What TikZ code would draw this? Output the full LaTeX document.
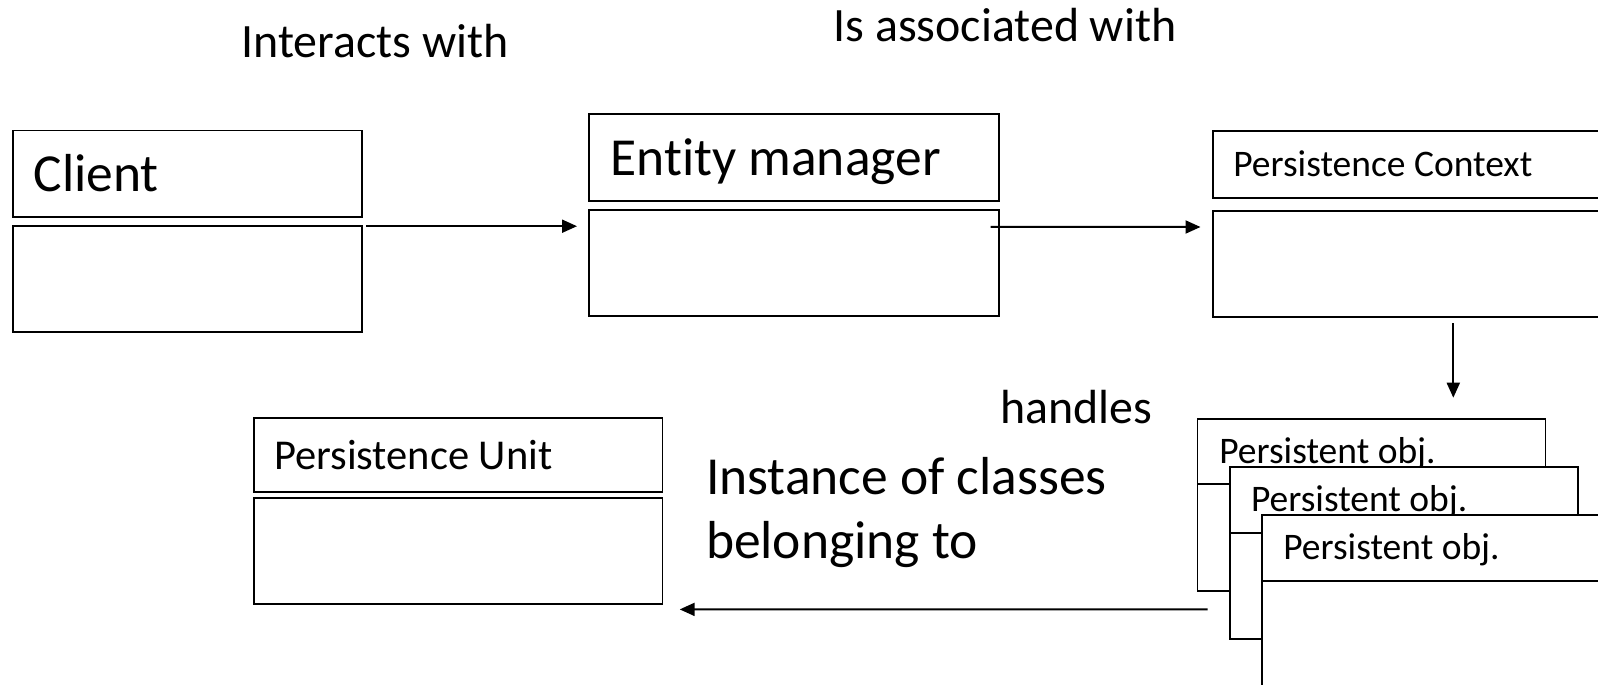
\documentclass[tikz,border=0pt]{standalone}
\usepackage{fontspec}
\setmainfont{Carlito}[Ligatures=NoCommon]
\usetikzlibrary{arrows.meta}
\tikzset{
  box/.style={draw, line width=1.8pt, fill=white, inner sep=0pt, outer sep=0pt, anchor=north west},
  lbl/.style={anchor=base west, inner sep=0pt, outer sep=0pt},
  arr/.style={-{Triangle[length=15pt,width=13pt]}, line width=2pt},
  big/.style={font=\fontsize{53.5}{64}\selectfont},
  mid/.style={font=\fontsize{47.9}{56}\selectfont},
  pu/.style={font=\fontsize{42.5}{50}\selectfont},
  small/.style={font=\fontsize{37.5}{44}\selectfont}
}
\begin{document}
\begin{tikzpicture}[x=1pt,y=-1pt]
\useasboundingbox (0,0) rectangle (1598,685);
\clip (0,0) rectangle (1598,685);
% Client
\node[box, minimum width=348.6pt, minimum height=86.7pt] (clh) at (13.2,130.4) {};
\node[box, minimum width=348.6pt, minimum height=106pt] (clb) at (13.2,226.2) {};
\node[lbl, big] (clt) at (33.6,191.6) {Client};
% Entity manager
\node[box, minimum width=409.7pt, minimum height=86.7pt] (emh) at (589,114.1) {};
\node[box, minimum width=409.7pt, minimum height=106pt] (emb) at (589,209.9) {};
\node[lbl, big] (emt) at (610.5,175) {Entity manager};
% Persistence Context
\node[box, minimum width=420pt, minimum height=66.7pt] (pch) at (1213,131) {};
\node[box, minimum width=420pt, minimum height=105.7pt] (pcb) at (1213,211) {};
\node[lbl, small] (pct) at (1233.3,176) {Persistence Context};
% Persistence Unit
\node[box, minimum width=408.7pt, minimum height=74.4pt] (puh) at (253.7,417.8) {};
\node[box, minimum width=408.7pt, minimum height=106pt] (pub) at (253.7,498.3) {};
\node[lbl, pu] (put) at (274,469) {Persistence Unit};
% Persistent objects (stacked)
\node[box, minimum width=348pt, minimum height=65.3pt] (o1h) at (1197.5,419) {};
\node[box, minimum width=348pt, minimum height=106.7pt] (o1b) at (1197.5,484.3) {};
\node[lbl, small] (o1t) at (1219.3,463.3) {Persistent obj.};
\node[box, minimum width=348pt, minimum height=65.4pt] (o2h) at (1230,467.3) {};
\node[box, minimum width=348pt, minimum height=106.3pt] (o2b) at (1230,532.7) {};
\node[lbl, small] (o2t) at (1251,511) {Persistent obj.};
\node[box, minimum width=348pt, minimum height=66pt] (o3h) at (1261.7,515) {};
\node[box, minimum width=348pt, minimum height=110pt] (o3b) at (1261.7,581) {};
\node[lbl, small] (o3t) at (1283.3,559.5) {Persistent obj.};
% Labels
\node[lbl, mid] (l1) at (241.5,58) {Interacts with};
\node[lbl, mid] (l2) at (833.6,42) {Is associated with};
\node[lbl, mid] (l3) at (1000,423) {handles};
\node[lbl, big] (l4a) at (706,494) {Instance of classes};
\node[lbl, big] (l4b) at (706,558.5) {belonging to};
% Connectors
\draw[arr] ([xshift=4pt]clb.north east) -- ([xshift=-12pt]emb.west |- clb.north east);
\draw[arr] ([xshift=-8pt,yshift=-17pt]emb.north east) -- ([xshift=-12.5pt,yshift=-16pt]pcb.north west);
\draw[arr] ([xshift=240.3pt,yshift=-6.3pt]pcb.south west) -- ([xshift=255.8pt,yshift=21.3pt]o1h.north west);
\draw[arr] ([xshift=10pt,yshift=-18.4pt]o1b.south west) -- ([xshift=17.3pt,yshift=-5.1pt]pub.south east);
\end{tikzpicture}
\end{document}
